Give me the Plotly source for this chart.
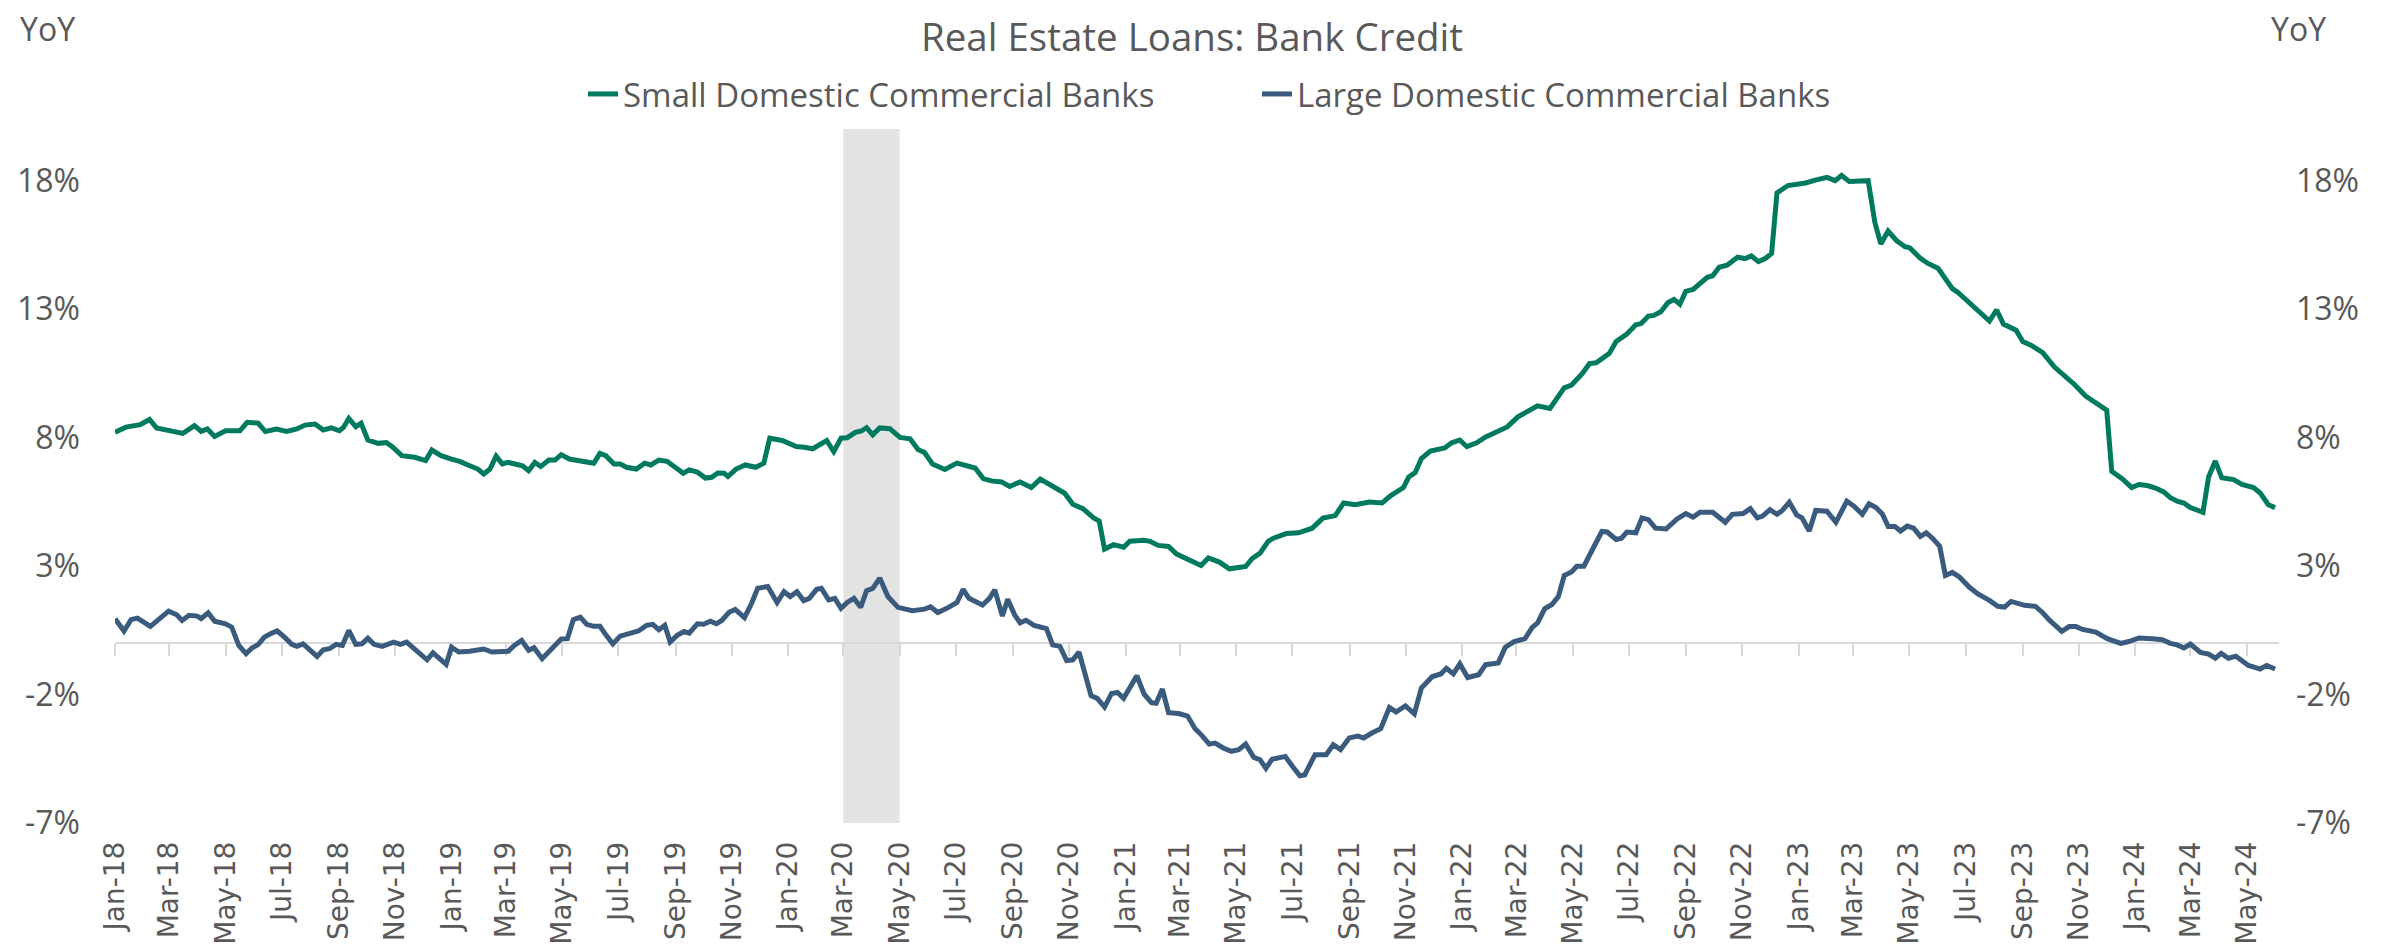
import pandas as pd
import plotly.graph_objects as go

# ---------------- data ----------------
# time positions are expressed in months elapsed since 1 Jan 2018
small_month = [0, 0.39, 0.9, 1.23, 1.48, 1.84, 2.42, 2.83, 3.07, 3.29, 3.55, 3.94, 4.45, 4.71, 5.1, 5.36,
               5.75, 6.12, 6.48, 6.77, 7.13, 7.42, 7.71, 8.0, 8.14, 8.33, 8.58, 8.77, 9.01, 9.38, 9.67, 9.88,
               10.22, 10.68, 11.07, 11.29, 11.62, 11.99, 12.28, 12.64, 12.93, 13.14, 13.36, 13.58, 13.8, 14.01,
               14.3, 14.52, 14.74, 14.96, 15.17, 15.46, 15.68, 15.9, 16.19, 16.48, 16.77, 17.06, 17.28, 17.49,
               17.78, 18.0, 18.22, 18.58, 18.87, 19.09, 19.38, 19.67, 19.96, 20.25, 20.46, 20.75, 21.04, 21.26,
               21.48, 21.7, 21.84, 22.13, 22.46, 22.83, 23.12, 23.33, 23.77, 24.28, 24.57, 24.86, 25.36, 25.61,
               25.87, 26.09, 26.38, 26.59, 26.78, 27.0, 27.25, 27.61, 27.97, 28.33, 28.62, 28.84, 29.13, 29.57,
               30.0, 30.43, 30.65, 30.94, 31.23, 31.59, 31.88, 32.25, 32.65, 32.97, 33.41, 33.84, 34.13, 34.49,
               34.86, 35.07, 35.26, 35.58, 35.94, 36.16, 36.67, 36.88, 37.17, 37.54, 37.83, 38.19, 38.7, 38.96,
               39.35, 39.71, 40.29, 40.51, 40.8, 41.09, 41.3, 41.74, 42.17, 42.66, 43.04, 43.48, 43.78, 44.19,
               44.7, 45.15, 45.46, 45.91, 46.1, 46.33, 46.55, 46.87, 47.38, 47.63, 47.92, 48.17, 48.52, 48.84,
               49.22, 49.61, 49.99, 50.31, 50.69, 51.13, 51.39, 51.64, 51.9, 52.28, 52.54, 52.79, 53.24, 53.49,
               53.87, 54.19, 54.38, 54.64, 54.83, 55.08, 55.34, 55.55, 55.76, 55.97, 56.23, 56.48, 56.74, 56.93,
               57.16, 57.44, 57.82, 58.08, 58.31, 58.56, 58.8, 59.03, 59.22, 59.61, 60.24, 60.62, 61.0, 61.29,
               61.52, 61.8, 62.18, 62.47, 62.71, 62.92, 63.18, 63.48, 63.78, 63.95, 64.31, 64.6, 64.96, 65.14,
               65.47, 65.67, 66.02, 66.38, 66.79, 67.05, 67.29, 67.74, 67.98, 68.27, 68.69, 69.1, 69.46, 69.81,
               70.22, 70.52, 70.97, 71.15, 71.53, 71.86, 72.12, 72.41, 72.71, 73.0, 73.24, 73.48, 73.72, 73.95,
               74.4, 74.6, 74.84, 75.07, 75.49, 75.79, 76.2, 76.44, 76.73, 76.97]
small_yoy = [8.2, 8.4, 8.5, 8.7, 8.37, 8.3, 8.16, 8.46, 8.24, 8.33, 8.04, 8.26, 8.26, 8.59, 8.56, 8.23,
             8.33, 8.23, 8.33, 8.48, 8.52, 8.29, 8.37, 8.26, 8.39, 8.74, 8.42, 8.55, 7.9, 7.77, 7.8, 7.64,
             7.29, 7.23, 7.1, 7.51, 7.29, 7.16, 7.07, 6.9, 6.77, 6.58, 6.77, 7.27, 6.97, 7.03,
             6.93, 6.9, 6.71, 7.03, 6.87, 7.12, 7.12, 7.33, 7.16, 7.12, 7.07, 7.0, 7.38, 7.29,
             6.97, 6.97, 6.84, 6.77, 7.0, 6.93, 7.12, 7.07, 6.84, 6.61, 6.74, 6.65, 6.42, 6.45,
             6.62, 6.61, 6.48, 6.77, 6.93, 6.84, 7.0, 7.97, 7.88, 7.65, 7.62, 7.56, 7.88, 7.45,
             7.97, 7.99, 8.2, 8.25, 8.38, 8.1, 8.37, 8.34, 8.0, 7.95, 7.52, 7.42, 6.97, 6.75,
             7.0, 6.9, 6.81, 6.4, 6.31, 6.27, 6.09, 6.27, 6.05, 6.38, 6.09, 5.83, 5.4, 5.23,
             4.88, 4.75, 3.66, 3.83, 3.73, 3.96, 4.0, 3.96, 3.8, 3.76, 3.46, 3.28, 3.02, 3.31,
             3.15, 2.89, 2.98, 3.28, 3.5, 3.96, 4.09, 4.26, 4.29, 4.47, 4.86, 4.96, 5.45, 5.38,
             5.49, 5.45, 5.74, 6.05, 6.46, 6.63, 7.18, 7.47, 7.59, 7.79, 7.9, 7.64, 7.79, 8.02,
             8.22, 8.41, 8.8, 8.99, 9.23, 9.13, 9.52, 9.93, 10.04, 10.48, 10.87, 10.91, 11.26, 11.73,
             12.02, 12.38, 12.43, 12.72, 12.75, 12.89, 13.25, 13.37, 13.18, 13.68, 13.76, 13.97, 14.23, 14.29,
             14.62, 14.7, 15.01, 14.96, 15.06, 14.84, 14.96, 15.16, 17.51, 17.8, 17.9, 18.02, 18.12, 17.99,
             18.19, 17.96, 17.95, 17.99, 16.36, 15.53, 16.03, 15.66, 15.42, 15.38, 14.99, 14.77, 14.58, 14.29,
             13.79, 13.64, 13.28, 12.92, 12.53, 12.96, 12.41, 12.17, 11.73, 11.59, 11.3, 10.75, 10.43, 10.07,
             9.61, 9.38, 9.06, 6.68, 6.39, 6.05, 6.17, 6.13, 6.03, 5.88, 5.66, 5.52, 5.45, 5.27,
             5.09, 6.46, 7.08, 6.43, 6.36, 6.17, 6.05, 5.84, 5.38, 5.27]

large_month = [0, 0.32, 0.57, 0.8, 1.26, 1.62, 1.91, 2.2, 2.39, 2.64, 2.93, 3.07, 3.32, 3.55, 3.94, 4.16,
               4.41, 4.67, 4.88, 5.1, 5.32, 5.54, 5.78, 6.04, 6.3, 6.48, 6.7, 6.96, 7.2, 7.42, 7.64, 7.88,
               8.1, 8.33, 8.58, 8.8, 9.01, 9.23, 9.52, 9.93, 10.17, 10.39, 10.65, 10.9, 11.12, 11.33, 11.55,
               11.8, 11.99, 12.25, 12.64, 12.86, 13.14, 13.43, 14.01, 14.23, 14.49, 14.74, 14.93, 15.22, 15.61,
               15.9, 16.12, 16.33, 16.58, 16.81, 17.06, 17.28, 17.49, 17.74, 18.0, 18.29, 18.65, 18.94, 19.16,
               19.38, 19.59, 19.78, 20.03, 20.28, 20.46, 20.75, 20.97, 21.22, 21.43, 21.62, 21.88, 22.1, 22.43,
               22.68, 22.9, 23.26, 23.59, 23.84, 24.06, 24.3, 24.54, 24.74, 25.0, 25.17, 25.43, 25.65, 25.87,
               26.09, 26.33, 26.57, 26.78, 27.0, 27.25, 27.54, 27.9, 28.41, 28.84, 29.06, 29.32, 29.64, 30.0,
               30.22, 30.43, 30.91, 31.16, 31.35, 31.62, 31.81, 32.06, 32.25, 32.46, 32.75, 33.19, 33.41, 33.67,
               33.91, 34.13, 34.35, 34.78, 35.0, 35.26, 35.51, 35.72, 35.94, 36.41, 36.67, 36.93, 37.1, 37.32,
               37.54, 37.9, 38.22, 38.48, 38.7, 38.99, 39.2, 39.49, 39.78, 40.04, 40.29, 40.58, 40.8, 41.01,
               41.23, 41.7, 41.96, 42.22, 42.39, 42.76, 43.16, 43.41, 43.67, 43.98, 44.29, 44.49, 44.8, 45.1,
               45.41, 45.65, 45.98, 46.3, 46.55, 46.94, 47.24, 47.44, 47.69, 47.92, 48.2, 48.59, 48.84, 49.29,
               49.54, 49.86, 50.24, 50.5, 50.69, 50.94, 51.2, 51.43, 51.64, 51.9, 52.09, 52.34, 52.66, 52.98,
               53.17, 53.49, 53.68, 53.87, 54.19, 54.41, 54.64, 54.89, 55.27, 55.66, 55.97, 56.23, 56.48, 56.93,
               57.38, 57.63, 58.01, 58.27, 58.52, 58.71, 58.97, 59.22, 59.41, 59.66, 59.92, 60.11, 60.37, 60.6,
               61.0, 61.32, 61.71, 61.96, 62.26, 62.5, 62.75, 62.98, 63.18, 63.42, 63.62, 63.86, 64.09, 64.33,
               64.54, 64.76, 65.02, 65.22, 65.47, 65.73, 66.08, 66.38, 66.79, 67.09, 67.33, 67.56, 68.04, 68.43,
               68.69, 68.92, 69.37, 69.63, 69.87, 70.11, 70.58, 70.76, 70.99, 71.47, 71.76, 72.12, 72.36, 72.6,
               72.95, 73.24, 73.48, 73.72, 73.95, 74.31, 74.6, 74.84, 75.05, 75.31, 75.57, 75.79, 76.02, 76.44,
               76.67, 76.97]
large_yoy = [0.95, 0.47, 0.91, 0.97, 0.65, 1.01, 1.24, 1.1, 0.88, 1.08, 1.05, 0.95, 1.18, 0.85, 0.75, 0.62,
             -0.09, -0.41, -0.19, -0.06, 0.23, 0.36, 0.47, 0.23, -0.05, -0.13, -0.03, -0.28, -0.52, -0.26, -0.22, -0.05,
             -0.09, 0.49, -0.05, -0.03, 0.19, -0.05, -0.13, 0.04, -0.05, 0.04, -0.22, -0.41, -0.65, -0.38, -0.57,
             -0.83, -0.16, -0.35, -0.32, -0.28, -0.23, -0.35, -0.32, -0.09, 0.1, -0.28, -0.18, -0.61, -0.16,
             0.16, 0.17, 0.91, 1.01, 0.73, 0.65, 0.65, 0.32, -0.03, 0.27, 0.36, 0.47, 0.69, 0.73,
             0.52, 0.69, 0.04, 0.3, 0.45, 0.39, 0.75, 0.73, 0.85, 0.75, 0.88, 1.2, 1.31, 0.99,
             1.54, 2.13, 2.2, 1.58, 2.0, 1.81, 2.0, 1.65, 1.74, 2.09, 2.13, 1.68, 1.74, 1.35,
             1.58, 1.74, 1.39, 2.04, 2.13, 2.53, 1.81, 1.39, 1.26, 1.32, 1.41, 1.19, 1.35, 1.58,
             2.09, 1.74, 1.48, 1.74, 2.07, 1.05, 1.7, 1.09, 0.79, 0.89, 0.69, 0.56, -0.07, -0.13,
             -0.68, -0.65, -0.35, -2.05, -2.15, -2.49, -1.96, -1.92, -2.15, -1.27, -1.99, -2.32, -2.34, -1.79,
             -2.71, -2.74, -2.84, -3.32, -3.56, -3.93, -3.89, -4.08, -4.21, -4.15, -3.93, -4.45, -4.54, -4.87,
             -4.52, -4.41, -4.8, -5.16, -5.13, -4.34, -4.34, -3.95, -4.14, -3.69, -3.62, -3.69, -3.49, -3.33,
             -2.51, -2.68, -2.44, -2.75, -1.75, -1.3, -1.2, -0.98, -1.2, -0.81, -1.34, -1.23, -0.84, -0.77,
             -0.16, 0.06, 0.17, 0.61, 0.78, 1.33, 1.5, 1.81, 2.63, 2.77, 2.99, 2.99, 3.67, 4.34,
             4.32, 4.03, 4.08, 4.32, 4.29, 4.87, 4.8, 4.47, 4.44, 4.83, 5.04, 4.9, 5.09, 5.09,
             4.7, 5.01, 5.04, 5.23, 4.87, 4.94, 5.19, 5.01, 5.16, 5.48, 4.99, 4.87, 4.36, 5.16,
             5.13, 4.7, 5.52, 5.33, 5.01, 5.42, 5.27, 5.01, 4.54, 4.54, 4.36, 4.55, 4.47, 4.15,
             4.29, 4.08, 3.76, 2.63, 2.75, 2.56, 2.17, 1.91, 1.66, 1.43, 1.4, 1.62, 1.47, 1.43,
             1.18, 0.9, 0.46, 0.64, 0.64, 0.53, 0.43, 0.32, 0.17, -0.01, 0.06, 0.2, 0.2, 0.17,
             0.13, -0.01, -0.07, -0.19, -0.04, -0.36, -0.43, -0.59, -0.4, -0.59, -0.51, -0.66, -0.87, -1.01,
             -0.87, -1.01]

recession_months = ["2020-03-01", "2020-04-01", "2020-05-01"]
y_tick_values = [-7, -2, 3, 8, 13, 18]
y_tick_labels = ["-7%", "-2%", "3%", "8%", "13%", "18%"]
y_range = [-7, 20]
x_range = ["2018-01-01", "2024-06-05"]
series_names = ["Small Domestic Commercial Banks", "Large Domestic Commercial Banks"]

# ---------------- styling ----------------
GREEN = "#007A5E"
BLUE = "#3A5A7E"
TEXT = "#595959"
SHADE = "#E3E3E3"
AXIS_GREY = "#D9D9D9"
FONT = "Open Sans, Noto Sans, sans-serif"
TICK_FONT = "DejaVu Sans, Verdana, sans-serif"

BASE = pd.Timestamp("2018-01-01")


def to_dates(months):
    return [BASE + pd.Timedelta(days=m * 30.4375) for m in months]


fig = go.Figure()

fig.add_trace(go.Scatter(
    x=to_dates(small_month), y=small_yoy, name=series_names[0], mode="lines",
    line=dict(color=GREEN, width=5),
))
fig.add_trace(go.Scatter(
    x=to_dates(large_month), y=large_yoy, name=series_names[1], mode="lines",
    line=dict(color=BLUE, width=5),
))
# invisible helpers so the zero-line axis and the right-hand axis are drawn
fig.add_trace(go.Scatter(x=x_range, y=[0, 0], mode="lines", line=dict(width=0, color="rgba(0,0,0,0)"),
                         xaxis="x2", yaxis="y", showlegend=False, hoverinfo="skip"))
fig.add_trace(go.Scatter(x=x_range, y=y_range, mode="lines", line=dict(width=0, color="rgba(0,0,0,0)"),
                         xaxis="x", yaxis="y2", showlegend=False, hoverinfo="skip"))

shapes = []
for a, b in zip(recession_months[:-1], recession_months[1:]):
    shapes.append(dict(type="rect", xref="x", yref="paper", x0=a, x1=b, y0=0, y1=1,
                       fillcolor=SHADE, line=dict(width=0), layer="below"))

W, H = 2384, 952
L, R, T, B = 107, 113, 121, 137
pw = W - L - R
ph = H - T - B

fig.update_layout(
    width=W, height=H,
    margin=dict(l=L, r=R, t=T, b=B, pad=0, autoexpand=False),
    paper_bgcolor="white", plot_bgcolor="rgba(0,0,0,0)",
    font=dict(family=FONT, color=TEXT, size=32),
    title=dict(text="Real Estate Loans: Bank Credit", x=(1184 - L) / pw, xref="paper", xanchor="center",
               y=1 - 30 / H, yref="container", yanchor="middle",
               font=dict(family=FONT, size=38.5, color=TEXT)),
    showlegend=True,
    legend=dict(orientation="h", x=(575 - L) / pw, xanchor="left", xref="paper",
                y=(H - B - 86) / ph, yanchor="middle", yref="paper", entrywidth=629,
                font=dict(family=FONT, size=33, color=TEXT), bgcolor="rgba(0,0,0,0)"),
    shapes=shapes,
    xaxis=dict(type="date", range=x_range, tick0="2018-01-01", dtick="M2", tickformat="%b-%y",
               tickangle=-90, tickfont=dict(family=TICK_FONT, size=28, color=TEXT),
               showgrid=False, zeroline=False, showline=False, ticks="", ticklabelstandoff=12,
               anchor="y", automargin=False),
    xaxis2=dict(type="date", range=x_range, overlaying="x", anchor="free",
                position=(0 - y_range[0]) / (y_range[1] - y_range[0]),
                tick0="2018-01-01", dtick="M2", showticklabels=False, showgrid=False, zeroline=False,
                showline=True, linecolor=AXIS_GREY, linewidth=2, automargin=False,
                ticks="outside", ticklen=12, tickwidth=2, tickcolor=AXIS_GREY, layer="below traces"),
    yaxis=dict(range=y_range, tickvals=y_tick_values, ticktext=y_tick_labels, showgrid=False,
               zeroline=False, showline=False, ticks="", ticklabelstandoff=34, automargin=False,
               tickfont=dict(family=FONT, size=32, color=TEXT)),
    yaxis2=dict(range=y_range, overlaying="y", side="right", anchor="x", automargin=False,
                tickvals=y_tick_values, ticktext=y_tick_labels, showgrid=False,
                zeroline=False, showline=False, ticks="", ticklabelstandoff=16,
                tickfont=dict(family=FONT, size=32, color=TEXT)),
    annotations=[
        dict(text="YoY", xref="paper", yref="paper", x=(10 - L) / pw, xanchor="left",
             y=(H - B - 21) / ph, yanchor="middle", showarrow=False,
             font=dict(family=FONT, size=32, color=TEXT)),
        dict(text="YoY", xref="paper", yref="paper", x=(2290 - L) / pw, xanchor="center",
             y=(H - B - 21) / ph, yanchor="middle", showarrow=False,
             font=dict(family=FONT, size=32, color=TEXT)),
    ],
)

fig.write_html("out.html")
